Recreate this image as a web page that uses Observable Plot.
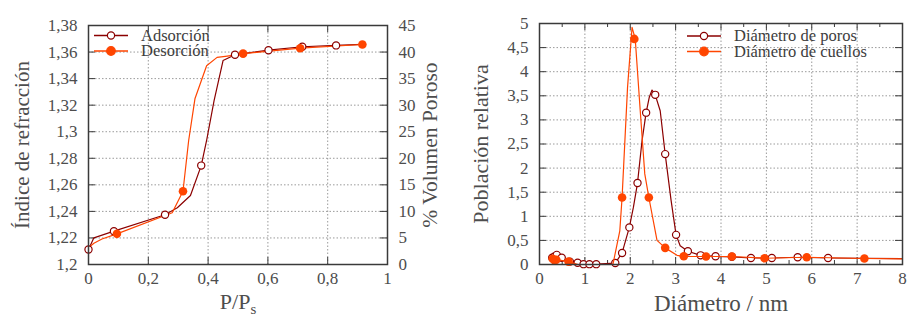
<!DOCTYPE html>
<html><head><meta charset="utf-8">
<script src="https://cdn.jsdelivr.net/npm/d3@7"></script>
<script src="https://cdn.jsdelivr.net/npm/@observablehq/plot@0.6"></script>
<style>
body{margin:0;background:#fff;}
#wrap{display:flex;width:913px;height:321px;overflow:hidden;}
</style></head><body><div id="wrap"></div>
<script>
// ---------- Left panel data ----------
const ejePresion = [0, 0.2, 0.4, 0.6, 0.8, 1];
const ejeIndice = [1.2, 1.22, 1.24, 1.26, 1.28, 1.3, 1.32, 1.34, 1.36, 1.38];
const ejeVolumen = [0, 5, 10, 15, 20, 25, 30, 35, 40, 45];

const adsPuntosP = [0.0, 0.085, 0.256, 0.377, 0.490, 0.602, 0.715, 0.828];
const adsPuntosN = [1.2113, 1.2251, 1.2375, 1.2745, 1.3580, 1.3614, 1.3640, 1.3650];
const adsCurvaP = [0, 0.018, 0.085, 0.256, 0.297, 0.341, 0.377, 0.395, 0.42, 0.45, 0.490, 0.602, 0.715, 0.828, 0.916];
const adsCurvaN = [1.2113, 1.2201, 1.2251, 1.2375, 1.2427, 1.252, 1.2745, 1.2934, 1.3235, 1.3536, 1.3580, 1.3614, 1.3640, 1.3650, 1.3658];

const desPuntosP = [0.095, 0.316, 0.517, 0.708, 0.916];
const desPuntosN = [1.2231, 1.2552, 1.3588, 1.3629, 1.3657];
const desCurvaP = [0, 0.018, 0.045, 0.095, 0.28, 0.316, 0.335, 0.356, 0.395, 0.43, 0.464, 0.517, 0.708, 0.916];
const desCurvaN = [1.2125, 1.2160, 1.2192, 1.2231, 1.2390, 1.2552, 1.2934, 1.3248, 1.3497, 1.3560, 1.3570, 1.3588, 1.3629, 1.3657];

// ---------- Right panel data ----------
const ejeDiametro = [0, 1, 2, 3, 4, 5, 6, 7, 8];
const ejeDiametroMenor = [0.5, 1.5, 2.5, 3.5, 4.5, 5.5, 6.5, 7.5];
const ejePoblacion = [0, 0.5, 1, 1.5, 2, 2.5, 3, 3.5, 4, 4.5, 5];

const porosPuntosD = [0.28, 0.33, 0.38, 0.49, 0.67, 0.84, 0.97, 1.10, 1.25, 1.67, 1.82, 1.98, 2.16, 2.35, 2.55, 2.77, 3.01, 3.27, 3.55, 3.88, 4.24, 4.66, 5.12, 5.69, 6.36];
const porosPuntosY = [0.14, 0.165, 0.20, 0.14, 0.06, 0.035, 0.007, 0.007, 0.007, 0.03, 0.24, 0.77, 1.69, 3.15, 3.52, 2.29, 0.615, 0.276, 0.19, 0.17, 0.16, 0.135, 0.135, 0.15, 0.135];
const porosCurvaD = [0.28, 0.33, 0.38, 0.49, 0.67, 0.84, 0.97, 1.10, 1.25, 1.67, 1.82, 1.98, 2.07, 2.16, 2.26, 2.35, 2.42, 2.48, 2.55, 2.66, 2.77, 2.90, 3.01, 3.10, 3.27, 3.55, 3.88, 4.24, 4.66, 5.12, 5.69, 6.36, 8.0];
const porosCurvaY = [0.14, 0.165, 0.20, 0.14, 0.06, 0.035, 0.007, 0.007, 0.007, 0.03, 0.24, 0.77, 1.19, 1.69, 2.57, 3.15, 3.47, 3.62, 3.52, 3.19, 2.29, 1.33, 0.615, 0.39, 0.276, 0.19, 0.17, 0.16, 0.135, 0.135, 0.15, 0.135, 0.12];

const cuellosPuntosD = [0.29, 0.33, 0.37, 0.64, 1.82, 2.09, 2.41, 2.77, 3.18, 3.67, 4.24, 4.96, 5.89, 7.16];
const cuellosPuntosY = [0.12, 0.09, 0.10, 0.06, 1.39, 4.68, 1.39, 0.345, 0.17, 0.166, 0.166, 0.13, 0.15, 0.124];
const cuellosCurvaD = [0.29, 0.37, 0.64, 0.85, 1.58, 1.62, 1.77, 1.82, 1.94, 2.04, 2.11, 2.22, 2.32, 2.41, 2.59, 2.77, 3.03, 3.18, 3.67, 4.24, 4.96, 5.89, 7.16, 8.0];
const cuellosCurvaY = [0.12, 0.10, 0.06, 0.0, 0.0, 0.01, 0.70, 1.39, 3.67, 4.92, 4.68, 3.19, 1.88, 1.39, 0.50, 0.345, 0.19, 0.17, 0.166, 0.166, 0.13, 0.15, 0.124, 0.117];

// ---------- styling ----------
const ROJO = "#8b0000", NARANJA = "#ff4500";
const TXT = "#4d4d4d", MARCO = "#3a3a3a", REJILLA = "#9a9a9a";
const FONT = "'Liberation Serif', 'DejaVu Serif', serif";
const coma = d => String(+d.toFixed(2)).replace(".", ",");
const zip = (a, b) => a.map((v, i) => ({x: v, y: b[i]}));

function legend(svg, items, x0, y0) {
  const g = d3.select(svg).append("g");
  items.forEach((it, i) => {
    const y = y0 + i * 15.5;
    g.append("line").attr("x1", x0).attr("x2", x0 + 34).attr("y1", y).attr("y2", y)
      .attr("stroke", it.color).attr("stroke-width", 1.4);
    g.append("circle").attr("cx", x0 + 17).attr("cy", y).attr("r", it.r)
      .attr("fill", it.fill).attr("stroke", it.color).attr("stroke-width", 1.2);
    g.append("text").attr("x", x0 + 47).attr("y", y).attr("dy", "0.32em")
      .attr("text-anchor", "start")
      .attr("font-size", 16.5).attr("fill", "#3d3d3d").attr("font-family", FONT).text(it.label);
  });
}

function marcas(xT, yT, iw, ih) {
  return [
    Plot.ruleX(xT.slice(1, -1), {stroke: REJILLA, strokeDasharray: "1.5,2"}),
    Plot.ruleY(yT.slice(1, -1), {stroke: REJILLA, strokeDasharray: "1.5,2"}),
    Plot.tickX(xT, {insetTop: ih - 7, stroke: MARCO}),
    Plot.tickX(xT, {insetBottom: ih - 7, stroke: MARCO}),
    Plot.tickY(yT, {insetRight: iw - 7, stroke: MARCO}),
    Plot.tickY(yT, {insetLeft: iw - 7, stroke: MARCO})
  ];
}

// ---------- left chart ----------
const L = {w: 460, h: 321, ml: 88, mr: 73, mt: 25, mb: 57};
const left = Plot.plot({
  width: L.w, height: L.h, marginLeft: L.ml, marginRight: L.mr, marginTop: L.mt, marginBottom: L.mb,
  x: {domain: [0, 1]}, y: {domain: [1.2, 1.38]},
  style: {fontFamily: FONT, fontSize: "17px", color: TXT, background: "white", overflow: "visible"},
  marks: [
    ...marcas(ejePresion, ejeIndice, L.w - L.ml - L.mr, L.h - L.mt - L.mb),
    Plot.axisY(ejeIndice, {anchor: "left", tickSize: 0, tickPadding: 11, tickFormat: coma, fontSize: 17, label: null}),
    Plot.axisY(ejeIndice, {anchor: "right", tickSize: 0, tickPadding: 11, tickFormat: d => ejeVolumen[ejeIndice.indexOf(d)], fontSize: 17, label: null}),
    Plot.axisX(ejePresion, {anchor: "bottom", tickSize: 0, tickPadding: 7, tickFormat: coma, fontSize: 17, label: null}),
    Plot.line(zip(adsCurvaP, adsCurvaN), {x: "x", y: "y", stroke: ROJO, strokeWidth: 1.2}),
    Plot.line(zip(desCurvaP, desCurvaN), {x: "x", y: "y", stroke: NARANJA, strokeWidth: 1.2}),
    Plot.dot(zip(adsPuntosP, adsPuntosN), {x: "x", y: "y", r: 3.6, stroke: ROJO, fill: "white", strokeWidth: 1.2}),
    Plot.dot(zip(desPuntosP, desPuntosN), {x: "x", y: "y", r: 4.3, fill: NARANJA}),
    Plot.frame({stroke: MARCO, strokeWidth: 1.5}),
    Plot.text(["Índice de refracción"], {frameAnchor: "left", textAnchor: "middle", rotate: -90, dx: -66, fontSize: 21}),
    Plot.text(["% Volumen Poroso"], {frameAnchor: "right", textAnchor: "middle", rotate: -90, dx: 43, fontSize: 21.5}),
    Plot.text(["P/Ps"], {frameAnchor: "bottom", dy: 44, fontSize: 22})
  ]
});
d3.select(left).selectAll("text").filter(function() { return this.textContent === "P/Ps"; })
  .each(function() {
    const t = d3.select(this);
    t.text("P/P");
    t.append("tspan").attr("dy", "0.35em").attr("font-size", 15).text("s");
  });
legend(left, [
  {label: "Adsorción", color: ROJO, fill: "white", r: 3.6},
  {label: "Desorción", color: NARANJA, fill: NARANJA, r: 4.3}
], 94, 35.5);

// ---------- right chart ----------
const R = {w: 453, h: 321, ml: 79, mr: 11, mt: 23, mb: 57};
const riw = R.w - R.ml - R.mr, rih = R.h - R.mt - R.mb;
const right = Plot.plot({
  width: R.w, height: R.h, marginLeft: R.ml, marginRight: R.mr, marginTop: R.mt, marginBottom: R.mb,
  x: {domain: [0, 8]}, y: {domain: [0, 5]},
  style: {fontFamily: FONT, fontSize: "17px", color: TXT, background: "white", overflow: "visible"},
  marks: [
    ...marcas(ejeDiametro, ejePoblacion, riw, rih),
    Plot.tickX(ejeDiametroMenor, {insetTop: rih - 4, stroke: MARCO}),
    Plot.tickX(ejeDiametroMenor, {insetBottom: rih - 4, stroke: MARCO}),
    Plot.axisY(ejePoblacion, {anchor: "left", tickSize: 0, tickPadding: 11, tickFormat: coma, fontSize: 17, label: null}),
    Plot.axisX(ejeDiametro, {anchor: "bottom", tickSize: 0, tickPadding: 7, tickFormat: coma, fontSize: 17, label: null}),
    Plot.line(zip(porosCurvaD, porosCurvaY), {x: "x", y: "y", stroke: ROJO, strokeWidth: 1.2}),
    Plot.dot(zip(porosPuntosD, porosPuntosY), {x: "x", y: "y", r: 3.6, stroke: ROJO, fill: "white", strokeWidth: 1.2}),
    Plot.line(zip(cuellosCurvaD, cuellosCurvaY), {x: "x", y: "y", stroke: NARANJA, strokeWidth: 1.2}),
    Plot.dot(zip(cuellosPuntosD, cuellosPuntosY), {x: "x", y: "y", r: 4.3, fill: NARANJA}),
    Plot.frame({stroke: MARCO, strokeWidth: 1.5}),
    Plot.text(["Población relativa"], {frameAnchor: "left", textAnchor: "middle", rotate: -90, dx: -59, fontSize: 22}),
    Plot.text(["Diámetro / nm"], {frameAnchor: "bottom", dy: 46, fontSize: 23})
  ]
});
legend(right, [
  {label: "Diámetro de poros", color: ROJO, fill: "white", r: 3.6},
  {label: "Diámetro de cuellos", color: NARANJA, fill: NARANJA, r: 4.3}
], 227, 36);

const wrap = document.getElementById("wrap");
wrap.appendChild(left);
wrap.appendChild(right);
</script>
</body></html>
